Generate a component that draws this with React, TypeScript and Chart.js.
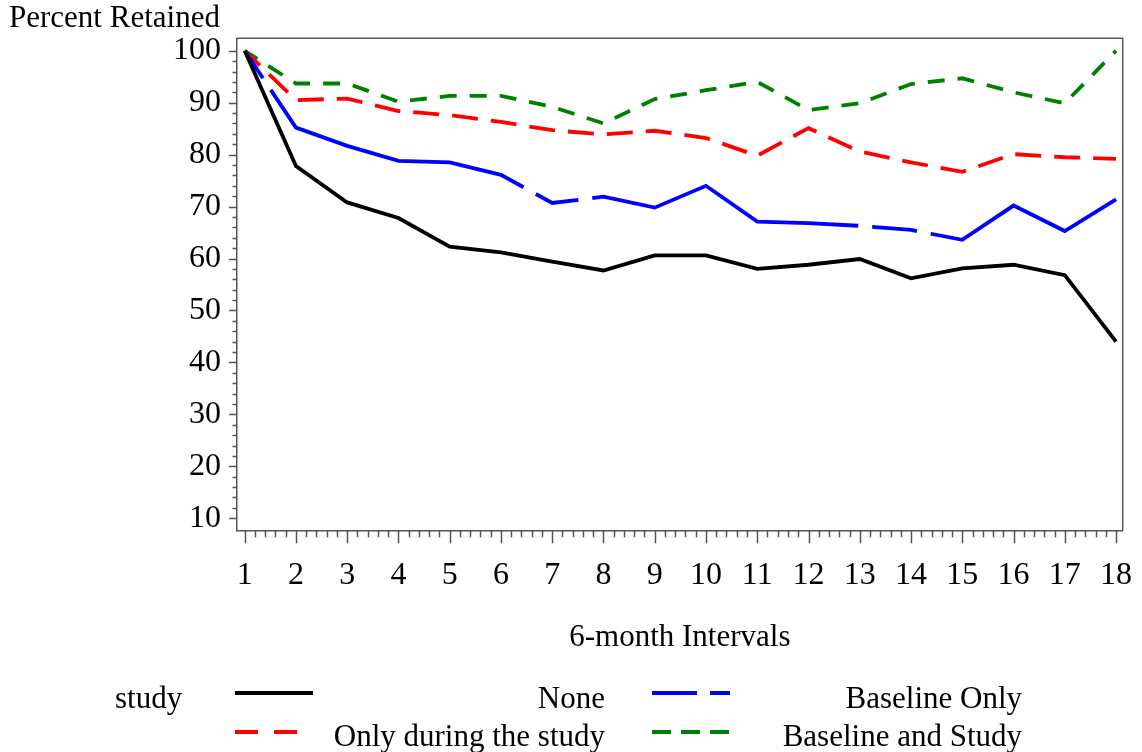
import React, { useEffect, useRef } from 'react';
import { Chart, registerables } from 'chart.js';

Chart.register(...registerables);

const intervals = [1, 2, 3, 4, 5, 6, 7, 8, 9, 10, 11, 12, 13, 14, 15, 16, 17, 18];
const noneValues = [100, 77.8, 70.8, 67.8, 62.3, 61.2, 59.4, 57.7, 60.6, 60.6, 58.0, 58.8, 59.9, 56.2, 58.1, 58.8, 56.8, 44.0];
const baselineOnlyValues = [100, 85.2, 81.7, 78.8, 78.5, 76.1, 70.7, 71.9, 69.8, 74.0, 67.1, 66.8, 66.3, 65.5, 63.6, 70.2, 65.3, 71.4];
const duringStudyValues = [100, 90.5, 90.8, 88.4, 87.6, 86.3, 84.7, 83.9, 84.6, 83.2, 79.8, 85.1, 80.6, 78.5, 76.7, 80.1, 79.5, 79.2];
const baselineAndStudyValues = [100, 93.7, 93.7, 90.2, 91.3, 91.3, 89.2, 86.0, 90.7, 92.4, 94.0, 88.6, 89.9, 93.6, 94.7, 92.0, 89.9, 100];
const yTickValues = [10, 20, 30, 40, 50, 60, 70, 80, 90, 100];
const seriesLabels = ['None', 'Baseline Only', 'Only during the study', 'Baseline and Study'];
const seriesColors = ['#000000', '#0000ff', '#ff0000', '#008000'];

const FONT = '"Liberation Serif", "Times New Roman", serif';
const AXIS_COLOR = '#555555';

const pts = (vals: number[]) => intervals.map((x, i) => ({ x, y: vals[i] }));

const legendDash: number[][] = [[], [45, 13], [23, 16], [19, 10]];

const decorPlugin = {
  id: 'decor',
  afterDraw(chart: any) {
    const { ctx, chartArea: a, scales } = chart;
    const xs = scales.x;
    const ys = scales.y;
    ctx.save();
    ctx.strokeStyle = AXIS_COLOR;
    ctx.lineWidth = 1.5;
    ctx.beginPath();
    ctx.moveTo(a.left, a.top);
    ctx.lineTo(a.right, a.top);
    ctx.lineTo(a.right, a.bottom);
    ctx.stroke();
    ctx.beginPath();
    for (let v = yTickValues[0]; v <= yTickValues[yTickValues.length - 1] + 0.001; v += 2) {
      const py = Math.round(ys.getPixelForValue(v)) + 0.5;
      const major = Math.abs(v % 10) < 0.001;
      ctx.moveTo(a.left, py);
      ctx.lineTo(a.left - (major ? 8 : 4.5), py);
    }
    ctx.stroke();
    ctx.beginPath();
    const first = intervals[0];
    const last = intervals[intervals.length - 1];
    for (let i = 0; first + i * 0.2 <= last + 0.001; i++) {
      const v = first + i * 0.2;
      const px = Math.round(xs.getPixelForValue(v)) + 0.5;
      const major = i % 5 === 0;
      ctx.moveTo(px, a.bottom);
      ctx.lineTo(px, a.bottom + (major ? 12.5 : 6.5));
    }
    ctx.stroke();

    ctx.fillStyle = '#000';
    ctx.font = `31px ${FONT}`;
    ctx.textBaseline = 'alphabetic';
    ctx.textAlign = 'left';
    ctx.fillText('Percent Retained', 9, 27);
    ctx.textAlign = 'center';
    ctx.fillText('6-month Intervals', (a.left + a.right) / 2, 646);

    ctx.textAlign = 'left';
    ctx.fillText('study', 115, 708);
    const ds = chart.data.datasets;
    const cells = [
      { idx: 0, x0: 235, y: 693, tx: 605, ty: 708 },
      { idx: 1, x0: 652, y: 693, tx: 1022, ty: 708 },
      { idx: 2, x0: 235, y: 732, tx: 605, ty: 746 },
      { idx: 3, x0: 652, y: 732, tx: 1022, ty: 746 },
    ];
    for (const c of cells) {
      const d = ds[c.idx];
      ctx.save();
      ctx.strokeStyle = d.borderColor;
      ctx.lineWidth = 4;
      ctx.lineCap = 'butt';
      ctx.setLineDash(legendDash[c.idx]);
      ctx.beginPath();
      ctx.moveTo(c.x0, c.y);
      ctx.lineTo(c.x0 + 78, c.y);
      ctx.stroke();
      ctx.restore();
      ctx.textAlign = 'right';
      ctx.fillText(d.label, c.tx, c.ty);
    }
    ctx.restore();
  },
};

export default function App() {
  const ref = useRef<HTMLCanvasElement | null>(null);
  useEffect(() => {
    if (!ref.current) return;
    const tickFont = { family: FONT, size: 32 };
    const chart = new Chart(ref.current, {
      type: 'line',
      data: {
        datasets: [
          {
            label: seriesLabels[0],
            data: pts(noneValues),
            borderColor: seriesColors[0],
            borderDash: [],
          },
          {
            label: seriesLabels[1],
            data: pts(baselineOnlyValues),
            borderColor: seriesColors[1],
            borderDash: [45, 14, 283, 14],
            borderDashOffset: 12,
          },
          {
            label: seriesLabels[2],
            data: pts(duringStudyValues),
            borderColor: seriesColors[2],
            borderDash: [26, 13],
            borderDashOffset: 5,
          },
          {
            label: seriesLabels[3],
            data: pts(baselineAndStudyValues),
            borderColor: seriesColors[3],
            borderDash: [17, 13],
            borderDashOffset: 2,
          },
        ].map((d) => ({
          ...d,
          borderWidth: 3.8,
          pointRadius: 0,
          pointHoverRadius: 0,
          tension: 0,
          fill: false,
          borderJoinStyle: 'miter' as const,
          borderCapStyle: 'butt' as const,
        })),
      },
      options: {
        responsive: false,
        animation: false,
        devicePixelRatio: 1,
        events: [],
        layout: { padding: { top: 38.3, right: 19.3, left: 0, bottom: 0 } },
        plugins: {
          legend: { display: false },
          title: { display: false },
          tooltip: { enabled: false },
        },
        scales: {
          x: {
            type: 'linear',
            min: 0.85,
            max: 18.13,
            grid: { display: false, drawTicks: false },
            border: { display: true, color: AXIS_COLOR, width: 1.5 },
            afterBuildTicks: (s: any) => {
              s.ticks = intervals.map((v) => ({ value: v }));
            },
            afterFit: (s: any) => {
              s.height = 752 - 530.7;
              s.paddingLeft = 0;
              s.paddingRight = 0;
            },
            ticks: {
              autoSkip: false,
              maxRotation: 0,
              minRotation: 0,
              includeBounds: false,
              padding: 26,
              color: '#000',
              font: tickFont,
              callback: (v: any) => String(v),
            },
          },
          y: {
            type: 'linear',
            min: 7.6,
            max: 102.4,
            grid: { display: false, drawTicks: false },
            border: { display: true, color: AXIS_COLOR, width: 1.5 },
            afterBuildTicks: (s: any) => {
              s.ticks = yTickValues.map((v) => ({ value: v }));
            },
            afterFit: (s: any) => {
              s.width = 237;
              s.paddingTop = 0;
              s.paddingBottom = 0;
            },
            ticks: {
              includeBounds: false,
              padding: 16,
              color: '#000',
              font: tickFont,
              callback: (v: any) => String(v),
            },
          },
        },
      },
      plugins: [decorPlugin],
    });
    return () => chart.destroy();
  }, []);

  return (
    <div style={{ position: 'absolute', left: 0, top: 0, width: 1142, height: 752, background: '#fff' }}>
      <canvas ref={ref} width={1142} height={752} style={{ display: 'block', width: 1142, height: 752 }} />
    </div>
  );
}
